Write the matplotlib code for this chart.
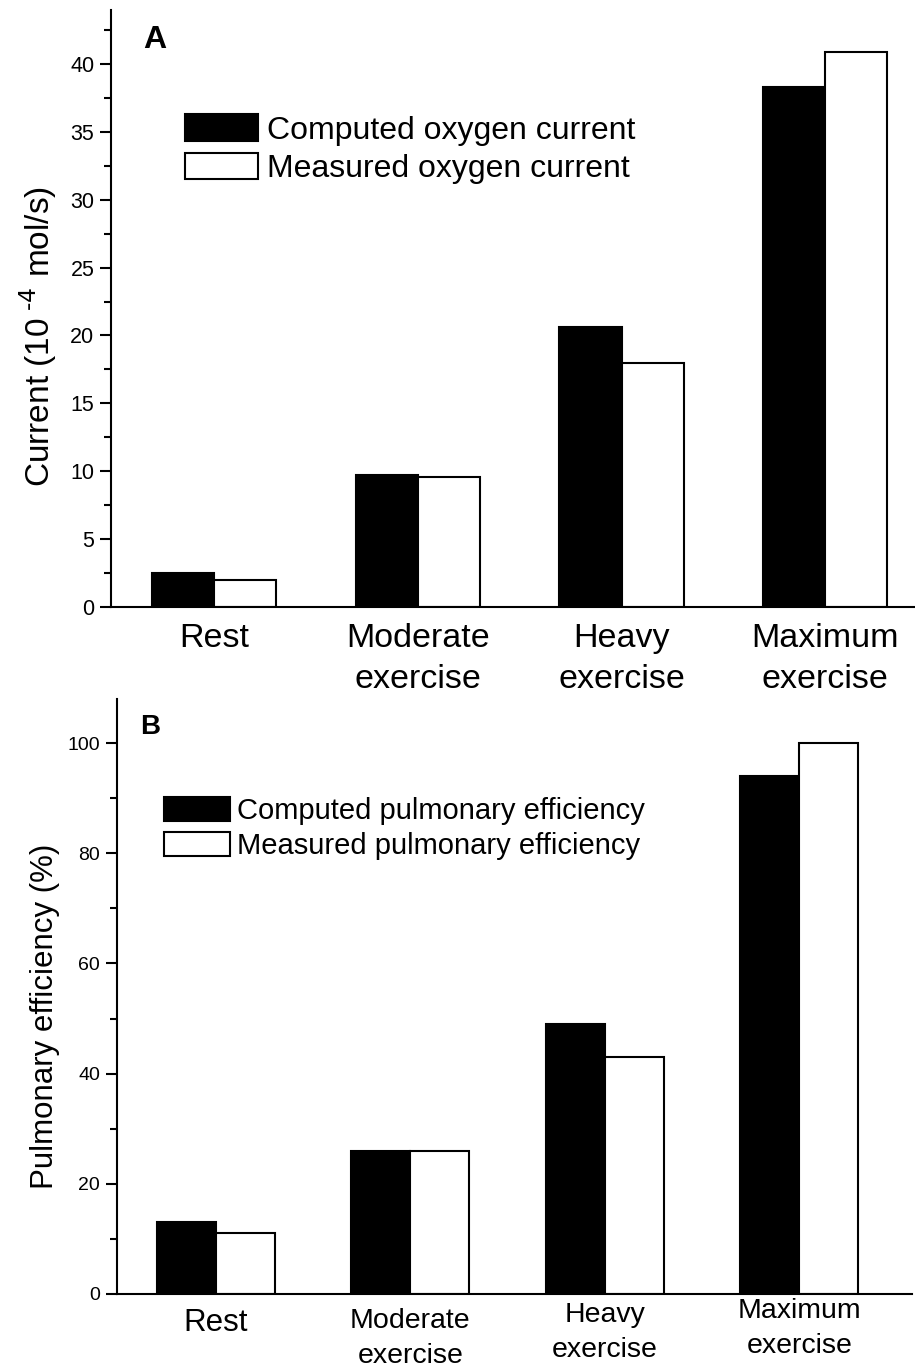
import numpy as np
import matplotlib
matplotlib.use("Agg")
import matplotlib.pyplot as plt

plt.rcParams['font.family'] = ['Liberation Sans', 'DejaVu Sans']
plt.rcParams['mathtext.default'] = 'regular'

# data
groups = ["Rest", "Moderate\nexercise", "Heavy\nexercise", "Maximum\nexercise"]
current_computed = [2.5, 9.7, 20.6, 38.3]
current_measured = [2.0, 9.6, 18.0, 40.9]
eff_computed = [13.0, 26.0, 49.0, 94.0]
eff_measured = [11.0, 26.0, 43.0, 100.0]

x = np.arange(1, len(groups) + 1)
lw = 1.5

fig = plt.figure(figsize=(9.15, 13.72), dpi=100)

#--- panel A ---------------------------------------------------------------
axA = fig.add_axes([0.1213, 0.5578, 0.8787, 0.4349])
wA = 0.305
axA.bar(x - wA / 2, current_computed, wA, color='black', edgecolor='black',
        linewidth=lw, label='Computed oxygen current')
axA.bar(x + wA / 2, current_measured, wA, color='white', edgecolor='black',
        linewidth=lw, label='Measured oxygen current')
axA.set_xlim(0.494, 4.44)
axA.set_ylim(0, 44)
axA.set_yticks(np.arange(0, 41, 5))
axA.set_yticks(np.arange(2.5, 44, 5), minor=True)
axA.set_xticks(x)
axA.set_xticklabels(groups, fontsize=24.5, linespacing=1.4)
axA.tick_params(axis='x', length=0, pad=12)
axA.tick_params(axis='y', which='major', length=8, width=lw, labelsize=15.5, pad=4)
axA.tick_params(axis='y', which='minor', length=5, width=lw)
axA.set_ylabel('Current (10$^{\\text{ -4}}$ mol/s)', fontsize=24, labelpad=8)
axA.yaxis.label.set_y(0.452)
axA.text(0.04, 0.975, 'A', transform=axA.transAxes, fontsize=23,
         fontweight='bold', va='top', ha='left')
axA.legend(loc='upper left', bbox_to_anchor=(0.092, 0.825), frameon=False,
           fontsize=23, handlelength=2.28, handleheight=0.9,
           handletextpad=0.28, labelspacing=0.22, borderpad=0, borderaxespad=0)

#--- panel B ---------------------------------------------------------------
axB = fig.add_axes([0.1275, 0.0569, 0.8695, 0.4336])
wB = 0.303
axB.bar(x - wB / 2, eff_computed, wB, color='black', edgecolor='black',
        linewidth=lw, label='Computed pulmonary efficiency')
axB.bar(x + wB / 2, eff_measured, wB, color='white', edgecolor='black',
        linewidth=lw, label='Measured pulmonary efficiency')
axB.set_xlim(0.491, 4.58)
axB.set_ylim(0, 108)
axB.set_yticks(np.arange(0, 101, 20))
axB.set_yticks(np.arange(10, 108, 20), minor=True)
axB.set_xticks(x)
axB.set_xticklabels(groups, fontsize=20.5, linespacing=1.45)
axB.get_xticklabels()[0].set_fontsize(22.5)
axB.tick_params(axis='x', length=0, pad=10)
for t, p in zip(axB.xaxis.get_major_ticks(), [10, 10, 6, 3]):
    t.set_pad(p)
axB.tick_params(axis='y', which='major', length=8, width=lw, labelsize=14, pad=4)
axB.tick_params(axis='y', which='minor', length=5, width=lw)
axB.set_ylabel('Pulmonary efficiency (%)', fontsize=22.5, labelpad=5)
axB.yaxis.label.set_y(0.466)
axB.text(0.03, 0.975, 'B', transform=axB.transAxes, fontsize=20,
         fontweight='bold', va='top', ha='left')
axB.legend(loc='upper left', bbox_to_anchor=(0.059, 0.836), frameon=False,
           fontsize=21, handlelength=2.26, handleheight=0.89,
           handletextpad=0.27, labelspacing=0.25, borderpad=0, borderaxespad=0)

for ax in (axA, axB):
    ax.spines['top'].set_visible(False)
    ax.spines['right'].set_visible(False)
    ax.spines['left'].set_linewidth(lw)
    ax.spines['bottom'].set_linewidth(lw)

fig.savefig('out.png', dpi=100)
